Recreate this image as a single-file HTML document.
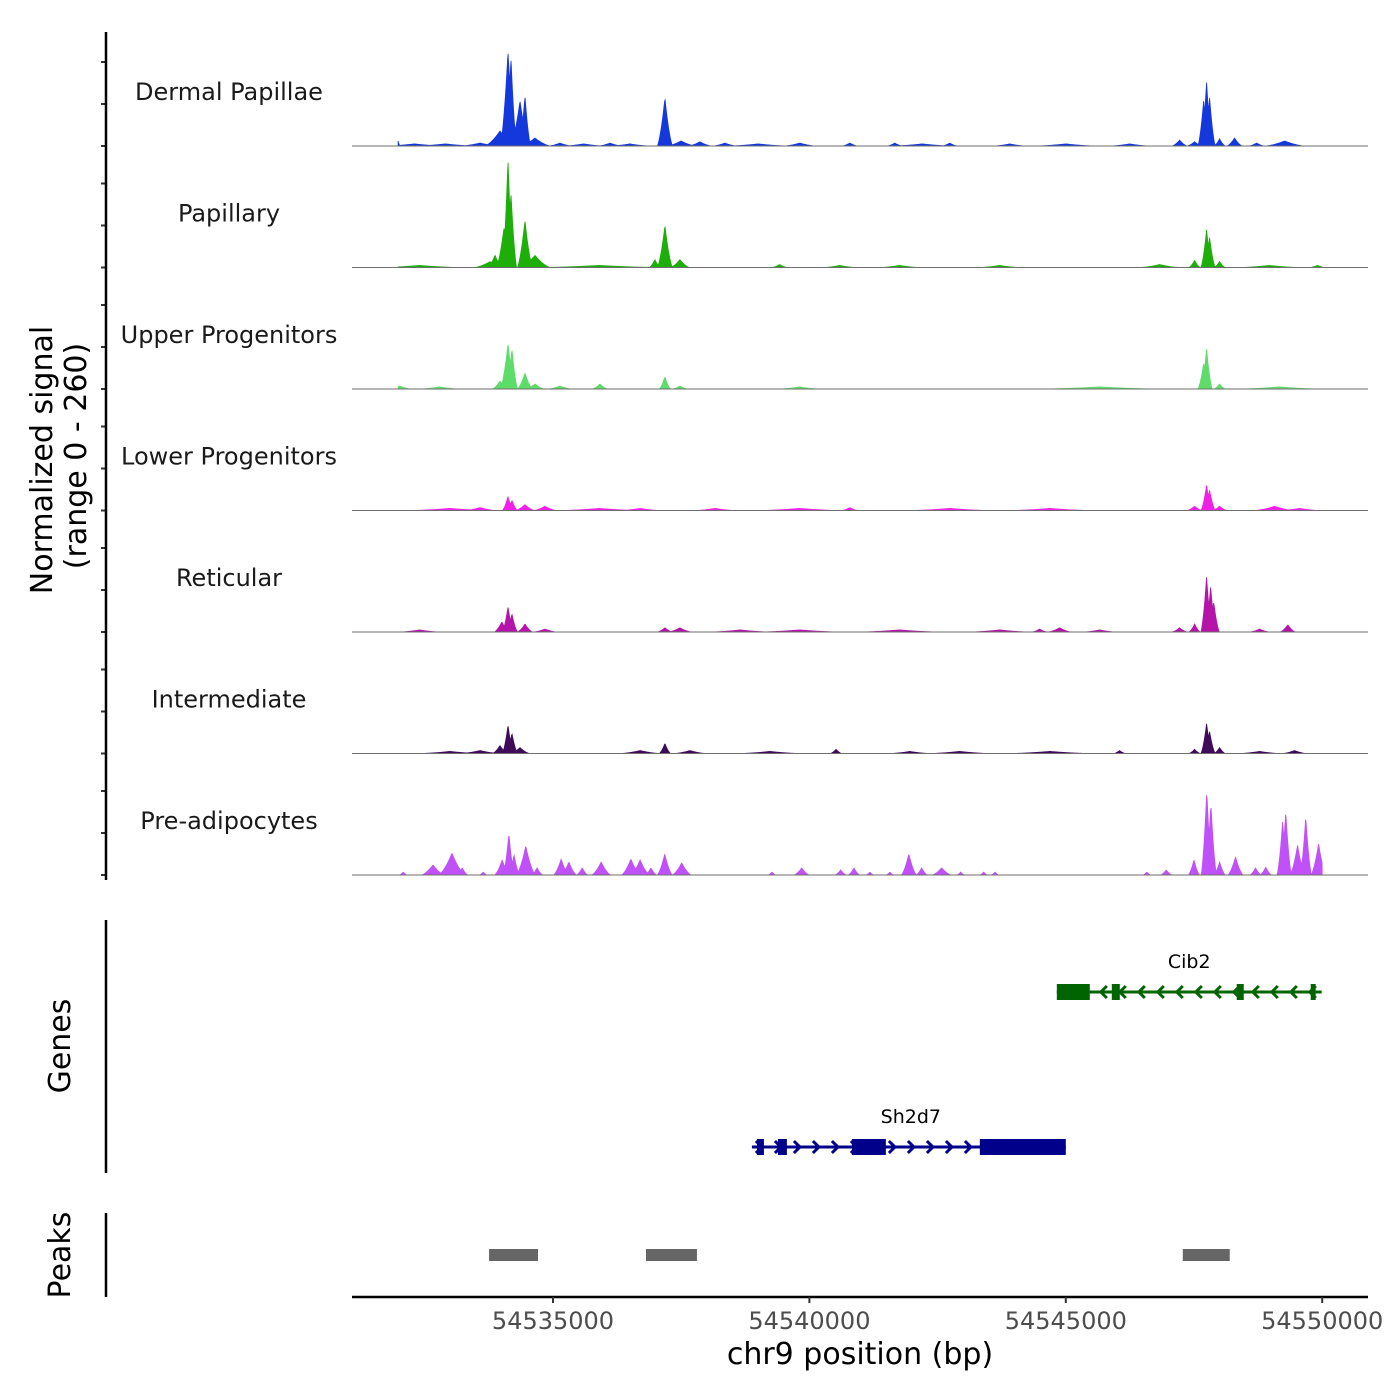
<!DOCTYPE html>
<html><head><meta charset="utf-8"><style>
body{margin:0;background:#fff}
svg{display:block;font-family:"DejaVu Sans","Liberation Sans",sans-serif}
</style></head><body>
<svg id="chart" width="1400" height="1400" viewBox="0 0 1400 1400" xmlns="http://www.w3.org/2000/svg">
<rect width="1400" height="1400" fill="#fff"/>
<g id="tracks"></g>
<g id="genes"></g>
<g id="peaks"></g>
<g id="axes"></g>
</svg>
<script>
// ---- data ----
const trackNames = ["Dermal Papillae","Papillary","Upper Progenitors","Lower Progenitors","Reticular","Intermediate","Pre-adipocytes"];
const trackColors = ["#1438dc","#1eae0a","#5edc6a","#f020e6","#b414a8","#3e0a5a","#c050f8"];
// peak centres (bp), heights (normalized signal), half-widths (bp)
const dpPos = [54531980,54532300,54532900,54533577,54533967,54534123,54534181,54534357,54534454,54534649,54535136,54535600,54536111,54536500,54537183,54537500,54537865,54538352,54539000,54539814,54540789,54541666,54542200,54542738,54543907,54545000,54546246,54547220,54547512,54547688,54547746,54547805,54548000,54548292,54548721,54549270];
const dpVal = [12,5,5,7,36,224,210,107,119,19,7,5,7,5,114,12,10,7,5,7,7,7,5,7,5,5,5,14,10,107,152,114,17,19,7,12];
const dpW = [20,300,300,200,160,80,60,100,60,160,120,200,120,200,80,150,120,120,300,160,80,80,300,80,160,300,200,80,80,60,60,60,60,80,80,200];

const papPos = [54532400,54533772,54533870,54534045,54534123,54534181,54534454,54534649,54535900,54536988,54537183,54537475,54539420,54540590,54541760,54543710,54546830,54547512,54547746,54547805,54548000,54548970,54549910];
const papVal = [5,14,29,95,257,178,112,29,5,19,100,19,7,5,5,5,7,17,90,71,14,5,5];
const papW = [400,160,80,80,60,60,80,160,600,60,80,100,80,160,200,200,200,60,60,60,60,300,80];

const upPos = [54532790,54532010,54533967,54534123,54534200,54534454,54534649,54535136,54535916,54537183,54537475,54539810,54545660,54547688,54547746,54548000,54549170];
const upVal = [5,7,19,107,95,38,12,7,12,29,7,5,5,60,95,12,5];
const upW = [200,120,80,80,60,80,100,120,80,60,80,200,600,60,60,60,400];

const lpPos = [54532990,54533577,54534123,54534200,54534454,54534844,54535910,54536700,54538160,54539810,54540790,54542740,54544690,54547512,54547746,54547805,54548000,54549070,54549560];
const lpVal = [5,7,33,24,14,10,5,5,5,5,7,5,5,10,60,48,10,10,5];
const lpW = [400,160,60,60,100,120,400,200,200,400,80,400,400,80,60,60,80,200,200];

const retPos = [54532400,54534003,54534123,54534200,54534454,54534844,54537183,54537475,54538650,54539810,54541760,54543710,54544490,54544880,54545660,54547220,54547512,54547746,54547825,54547885,54548780,54549330];
const retVal = [5,24,60,43,19,7,10,10,5,5,5,5,7,10,5,10,19,131,107,71,7,17];
const retW = [200,80,60,60,80,120,80,120,300,400,400,300,80,120,160,80,60,60,60,60,100,80];

const intPos = [54532990,54533577,54533967,54534123,54534200,54534357,54536700,54537183,54537670,54540520,54539230,54541960,54542930,54544690,54546050,54547512,54547746,54547805,54548000,54548780,54549460];
const intVal = [5,7,19,67,48,14,7,24,7,10,5,5,5,5,7,10,71,52,14,5,7];
const intW = [300,200,80,60,60,100,200,60,160,60,300,200,300,400,60,60,60,60,60,200,120];

const preAdPos = [54532080,54532660,54533030,54533230,54533640,54534010,54534140,54534240,54534470,54534690,54535160,54535310,54535570,54535940,54536520,54536700,54536910,54537180,54537510,54539270,54539850,54540610,54540870,54541180,54541570,54541940,54542190,54542580,54542950,54543400,54543620,54546580,54546960,54547750,54547500,54547750,54547830,54548000,54548310,54548700,54548900,54549230,54549290,54549520,54549680,54549930];
const preAdVal = [7,24,52,17,7,36,98,48,69,17,38,31,17,31,38,36,17,50,29,7,17,12,17,7,7,50,17,17,7,7,7,7,12,200,36,200,169,31,43,17,19,129,150,71,138,74];
const preAdW = [40,120,140,60,40,80,60,60,100,60,80,80,60,100,100,100,60,80,100,40,80,60,60,40,40,80,60,100,40,40,40,40,60,60,60,40,60,60,80,60,60,60,60,80,60,80];

const dataStart = 54531980, dataEnd = 54550000;
const xTicks = [54535000,54540000,54545000,54550000];
const xTickLabels = ["54535000","54540000","54545000","54550000"];
const yTicks = [0,100,200];

const geneNames = ["Cib2","Sh2d7"];
const geneStarts = [54544825,54538879];
const geneEnds = [54549990,54545000];
const geneStrands = ["-","+"];
const geneColors = ["#006400","#00008b"];
const exonStarts = [[54544825,54545897,54548333,54549776],[54538977,54539386,54540828,54543324]];
const exonEnds = [[54545468,54546053,54548470,54549873],[54539113,54539561,54541491,54545000]];

const peakStarts = [54533753,54536813,54547281];
const peakEnds = [54534708,54537807,54548197];

const tracks = [[dpPos,dpVal,dpW],[papPos,papVal,papW],[upPos,upVal,upW],[lpPos,lpVal,lpW],[retPos,retVal,retW],[intPos,intVal,intW],[preAdPos,preAdVal,preAdW]];

// ---- scales ----
const X0 = 352, X1 = 1368;
const xScale = bp => 553 + (bp - 54535000) * (256.4 / 5000);
const xInv = px => 54535000 + (px - 553) * (5000 / 256.4);
const trackBase = i => 146 + i * 121.5;
const yScale = (i, v) => trackBase(i) - v * 0.42;
const NS = "http://www.w3.org/2000/svg";
function mk(tag, attrs, parent){const e=document.createElementNS(NS,tag);for(const k in attrs)e.setAttribute(k,attrs[k]);parent.appendChild(e);return e;}

const gT = document.getElementById("tracks");
tracks.forEach((t, i) => {
  const [pos, val, w] = t;
  let d = "";
  const xs = Math.max(X0, xScale(dataStart)), xe = Math.min(X1, xScale(dataEnd));
  d += "M" + xs + "," + trackBase(i);
  for (let px = xs; px <= xe; px += 0.5) {
    const bp = xInv(px);
    let v = 0;
    for (let k = 0; k < pos.length; k++) {
      const r = Math.abs(bp - pos[k]) / (w[k] * 1.8);
      const f = r < 1 ? (1 - r) * (1 - r) * 0.5 + (1 - r) * 0.5 : 0;
      if (f > 0) v = Math.max(v, val[k] * f);
    }
    v = Math.min(v, 260);
    d += "L" + px.toFixed(1) + "," + yScale(i, v).toFixed(2);
  }
  d += "L" + xe + "," + trackBase(i) + "Z";
  const p = mk("path", {d: d, fill: trackColors[i], stroke: trackColors[i], "stroke-width": 0.8}, gT);
  
  
  const bl = mk("line", {x1: X0, x2: X1, y1: trackBase(i), y2: trackBase(i), stroke: "#6e6e6e", "stroke-width": 1}, gT);
  
  
  const lbl = mk("text", {x: 229, y: trackBase(i) - 46, "text-anchor": "middle", "font-size": 24, fill: "#1a1a1a"}, gT);
  lbl.textContent = trackNames[i];
  
  
  yTicks.forEach(tv => {
    const tk = mk("line", {x1: 101, x2: 106, y1: yScale(i, tv), y2: yScale(i, tv), stroke: "#333", "stroke-width": 2}, gT);
    
    
  });
});

// genes
const gG = document.getElementById("genes");
const geneY = [992, 1147];
geneNames.forEach((g, i) => {
  const y = geneY[i], c = geneColors[i];
  const xs = xScale(geneStarts[i]), xe = xScale(geneEnds[i]);
  const ln = mk("line", {x1: xs, x2: xe, y1: y, y2: y, stroke: c, "stroke-width": 3}, gG);
  
  
  for (let ax = xs + 8; ax < xe - 4; ax += 19) {
    const dir = geneStrands[i] === "+" ? 1 : -1;
    const a = mk("path", {d: `M${ax - 4*dir},${y-6}L${ax+2*dir},${y}L${ax - 4*dir},${y+6}`, fill: "none", stroke: c, "stroke-width": 3}, gG);
    
    
  }
  exonStarts[i].forEach((s, k) => {
    const e1 = xScale(s), e2 = xScale(exonEnds[i][k]);
    const r = mk("rect", {x: e1, y: y - 8, width: Math.max(e2 - e1, 4), height: 16, fill: c}, gG);
    
    
  });
  const t = mk("text", {x: (xs + xe) / 2 + (i === 0 ? 0 : 2), y: y - 24, "text-anchor": "middle", "font-size": 19, fill: "#000"}, gG);
  t.textContent = g;
  
  
});

// peaks
const gP = document.getElementById("peaks");
peakStarts.forEach((s, k) => {
  const r = mk("rect", {x: xScale(s), y: 1249, width: xScale(peakEnds[k]) - xScale(s), height: 12, fill: "#666"}, gP);
  
  
});

// axes
const gA = document.getElementById("axes");
[[32,880,'signal-y-axis'],[920,1173,'genes-y-axis'],[1213,1297,'peaks-y-axis']].forEach(a => {
  const l = mk("line", {x1: 106, x2: 106, y1: a[0], y2: a[1], stroke: "#000", "stroke-width": 2.5}, gA);
  
  
});
const xa = mk("line", {x1: X0, x2: X1, y1: 1297, y2: 1297, stroke: "#000", "stroke-width": 2.5}, gA);


xTicks.forEach((tv, k) => {
  const tk = mk("line", {x1: xScale(tv), x2: xScale(tv), y1: 1297, y2: 1303, stroke: "#333", "stroke-width": 2}, gA);
  
  
  const tl = mk("text", {x: xScale(tv), y: 1329, "text-anchor": "middle", "font-size": 24, fill: "#4d4d4d"}, gA);
  tl.textContent = xTickLabels[k];
  
  
});
const xt = mk("text", {x: 860, y: 1364, "text-anchor": "middle", "font-size": 30, fill: "#000"}, gA);
xt.textContent = "chr9 position (bp)";


const yt = mk("text", {transform: "translate(52,460) rotate(-90)", "text-anchor": "middle", "font-size": 30, fill: "#000"}, gA);
yt.textContent = "Normalized signal";


const yt2 = mk("text", {transform: "translate(86,456) rotate(-90)", "text-anchor": "middle", "font-size": 30, fill: "#000"}, gA);
yt2.textContent = "(range 0 - 260)";


const gt = mk("text", {transform: "translate(70,1046) rotate(-90)", "text-anchor": "middle", "font-size": 30, fill: "#000"}, gA);
gt.textContent = "Genes";


const pt = mk("text", {transform: "translate(70,1255) rotate(-90)", "text-anchor": "middle", "font-size": 30, fill: "#000"}, gA);
pt.textContent = "Peaks";


</script>
</body></html>
